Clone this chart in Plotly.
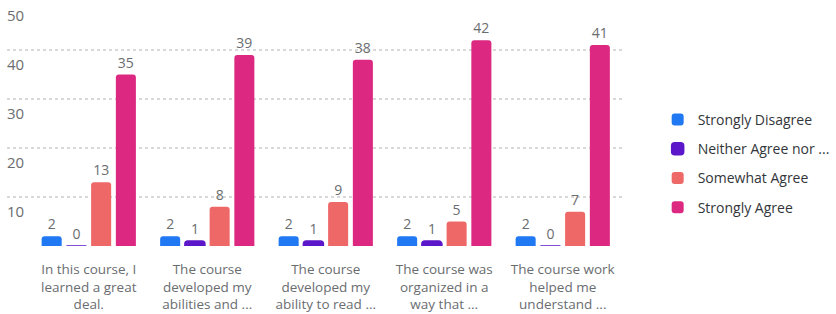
import plotly.graph_objects as go

categories = [
    "In this course, I<br>learned a great<br>deal.",
    "The course<br>developed my<br>abilities and ...",
    "The course<br>developed my<br>ability to read ...",
    "The course was<br>organized in a<br>way that ...",
    "The course work<br>helped me<br>understand ...",
]
series_names = ["Strongly Disagree", "Neither Agree nor ...", "Somewhat Agree", "Strongly Agree"]
strongly_disagree = [2, 2, 2, 2, 2]
neither = [0, 1, 1, 1, 0]
somewhat_agree = [13, 8, 9, 5, 7]
strongly_agree = [35, 39, 38, 42, 41]
colors = ["#2178f3", "#5b17c9", "#ef6868", "#dc2880"]
y_ticks = [0, 10, 20, 30, 40, 50]
y_tick_text = ["", "10", "20", "30", "40", "50"]

FONT = "Open Sans"
fig = go.Figure()
for i, (name, vals) in enumerate(zip(series_names, [strongly_disagree, neither, somewhat_agree, strongly_agree])):
    fig.add_trace(go.Bar(
        x=list(range(len(categories))), y=vals, name=name,
        marker=dict(color=colors[i], line=dict(color=colors[i], width=1.5 if i == 1 else 0)),
        text=[str(v) for v in vals], textposition="outside",
        textfont=dict(color="#6a6d70", size=14, family=FONT),
        cliponaxis=False, legendgroup=name,
    ))

fig.update_layout(
    width=836, height=314,
    margin=dict(l=7, r=201, t=1, b=68),
    paper_bgcolor="white", plot_bgcolor="white",
    barmode="group", bargap=0.165, bargroupgap=0.19,
    barcornerradius=3,
    font=dict(family=FONT, color="#6a6d70"),
    legend=dict(x=1.058, y=0.337, xanchor="left", yanchor="middle",
                font=dict(size=14, color="#32363a", family=FONT),
                tracegroupgap=8, traceorder="grouped"),
    showlegend=True,
)
fig.update_xaxes(
    tickvals=list(range(len(categories))), ticktext=categories,
    range=[-0.69, 4.5], showgrid=False, zeroline=False, showline=False,
    ticks="outside", ticklen=11, tickcolor="rgba(0,0,0,0)",
    tickfont=dict(size=13.5, color="#6a6d70", family=FONT),
    automargin=False,
)
fig.update_yaxes(
    range=[0, 50], tickvals=y_ticks, ticktext=y_tick_text,
    showgrid=True, gridcolor="#d9d9d9", griddash="dot", gridwidth=2,
    zeroline=False, showline=False,
    ticklabelposition="inside", ticklabelshift=15, ticklabelstandoff=-3,
    tickfont=dict(size=15, color="#6a6d70", family=FONT),
    automargin=False,
)
fig.write_html("out.html", config={"displayModeBar": False},
               post_script="document.body.style.margin='0';document.body.style.overflow='hidden';")
